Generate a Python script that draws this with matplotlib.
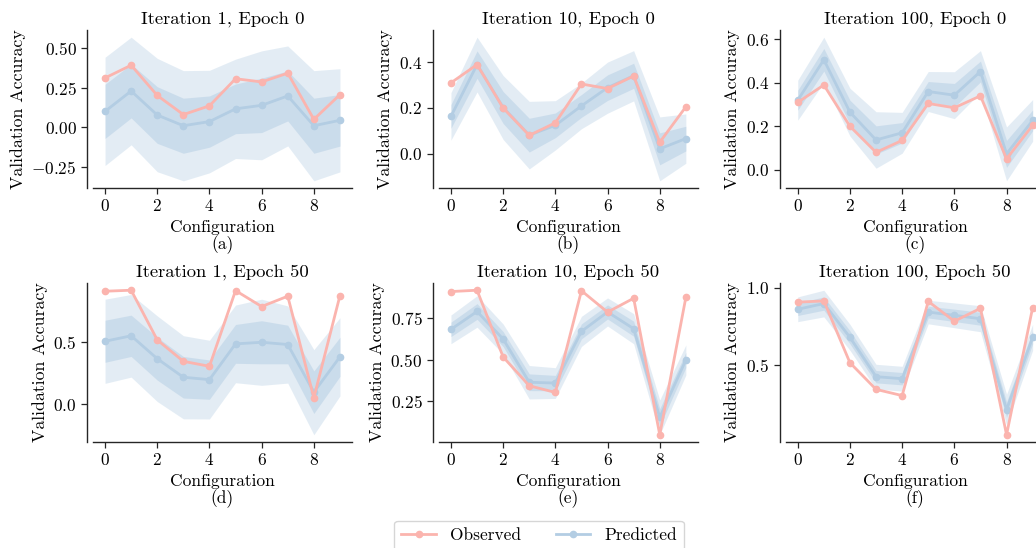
import matplotlib
matplotlib.use("Agg")
import matplotlib.pyplot as plt
from matplotlib.lines import Line2D
import numpy as np

plt.rcParams['font.family'] = ['cmr10', 'DejaVu Serif']
plt.rcParams['mathtext.fontset'] = 'cm'
plt.rcParams['axes.formatter.use_mathtext'] = True
plt.rcParams['axes.unicode_minus'] = True

configs = [0, 1, 2, 3, 4, 5, 6, 7, 8, 9]
observed_epoch0 = [0.31, 0.39, 0.20, 0.08, 0.135, 0.305, 0.285, 0.34, 0.05, 0.205]
observed_epoch50 = [0.907, 0.915, 0.516, 0.344, 0.304, 0.912, 0.784, 0.867, 0.051, 0.872]

pred_mean_a = [0.100, 0.228, 0.077, 0.010, 0.036, 0.116, 0.138, 0.197, 0.010, 0.044]
pred_std_a = [0.170, 0.169, 0.178, 0.173, 0.161, 0.156, 0.171, 0.157, 0.173, 0.162]
pred_mean_b = [0.163, 0.390, 0.202, 0.081, 0.124, 0.209, 0.289, 0.341, 0.021, 0.066]
pred_std_b = [0.052, 0.060, 0.070, 0.074, 0.054, 0.050, 0.056, 0.055, 0.070, 0.054]
pred_mean_c = [0.320, 0.506, 0.265, 0.137, 0.170, 0.360, 0.343, 0.452, 0.073, 0.227]
pred_std_c = [0.046, 0.052, 0.055, 0.065, 0.047, 0.046, 0.054, 0.048, 0.062, 0.048]
pred_mean_d = [0.505, 0.549, 0.365, 0.216, 0.197, 0.484, 0.497, 0.479, 0.096, 0.380]
pred_std_d = [0.169, 0.166, 0.172, 0.167, 0.158, 0.156, 0.173, 0.155, 0.171, 0.157]
pred_mean_e = [0.681, 0.788, 0.623, 0.365, 0.360, 0.669, 0.785, 0.685, 0.155, 0.498]
pred_std_e = [0.043, 0.047, 0.045, 0.050, 0.046, 0.045, 0.042, 0.045, 0.052, 0.045]
pred_mean_f = [0.861, 0.898, 0.680, 0.426, 0.413, 0.843, 0.822, 0.800, 0.213, 0.680]
pred_std_f = [0.040, 0.043, 0.042, 0.040, 0.040, 0.038, 0.040, 0.042, 0.050, 0.042]

titles = ["Iteration 1, Epoch 0", "Iteration 10, Epoch 0", "Iteration 100, Epoch 0",
          "Iteration 1, Epoch 50", "Iteration 10, Epoch 50", "Iteration 100, Epoch 50"]
subcaps = ["(a)", "(b)", "(c)", "(d)", "(e)", "(f)"]

panels = [
    (observed_epoch0, pred_mean_a, pred_std_a),
    (observed_epoch0, pred_mean_b, pred_std_b),
    (observed_epoch0, pred_mean_c, pred_std_c),
    (observed_epoch50, pred_mean_d, pred_std_d),
    (observed_epoch50, pred_mean_e, pred_std_e),
    (observed_epoch50, pred_mean_f, pred_std_f),
]

OBS_C = '#fbb4ae'
PRED_C = '#b3cde3'
SPINE_C = '0.15'

W, H = 1036, 548
fig = plt.figure(figsize=(W / 100, H / 100), dpi=100)

col_left = [93.3, 439.2, 786.0]
ax_w = 258.4
row_top = [30.0, 283.0]
row_bot = [188.0, 442.0]
subcap_y = [244.5, 498.5]

for i, (obs, mean, std) in enumerate(panels):
    r, c = divmod(i, 3)
    l = col_left[c] / W
    b = 1 - row_bot[r] / H
    h = (row_bot[r] - row_top[r]) / H
    ax = fig.add_axes([l, b, ax_w / W, h])
    x = np.array(configs)
    m = np.array(mean)
    s = np.array(std)
    ax.fill_between(x, m - 2 * s, m + 2 * s, color=PRED_C, alpha=0.36, linewidth=0)
    ax.fill_between(x, m - s, m + s, color=PRED_C, alpha=0.5, linewidth=0)
    ax.plot(x, m, color=PRED_C, lw=2, marker='o', ms=4.5)
    ax.plot(x, obs, color=OBS_C, lw=2, marker='o', ms=4.5)
    ax.set_title(titles[i], fontsize=13.4, pad=5)
    ax.set_xlabel("Configuration", fontsize=12.5, labelpad=3.5)
    ax.set_ylabel("Validation Accuracy", fontsize=12.8)
    ax.set_xticks([0, 2, 4, 6, 8])
    ax.tick_params(labelsize=12.5, color=SPINE_C, length=4, width=0.9)
    for sp in ['top', 'right']:
        ax.spines[sp].set_visible(False)
    ax.spines['left'].set_position(('outward', 4.5))
    for sp in ['left', 'bottom']:
        ax.spines[sp].set_color(SPINE_C)
        ax.spines[sp].set_linewidth(1.0)
    fig.text((col_left[c] + ax_w / 2) / W, 1 - subcap_y[r] / H, subcaps[i],
             ha='center', va='center', fontsize=12.5)

handles = [Line2D([], [], color=OBS_C, lw=2, marker='o', ms=4.5),
           Line2D([], [], color=PRED_C, lw=2, marker='o', ms=4.5)]
fig.legend(handles, ["Observed", "Predicted"], loc='upper center',
           bbox_to_anchor=(539 / W, 1 - 521 / H), borderaxespad=0, ncol=2,
           fontsize=12.5, frameon=True, fancybox=True, edgecolor='0.8',
           columnspacing=2.0, handlelength=2.0, borderpad=0.4)

fig.savefig("out.png", dpi=100)
